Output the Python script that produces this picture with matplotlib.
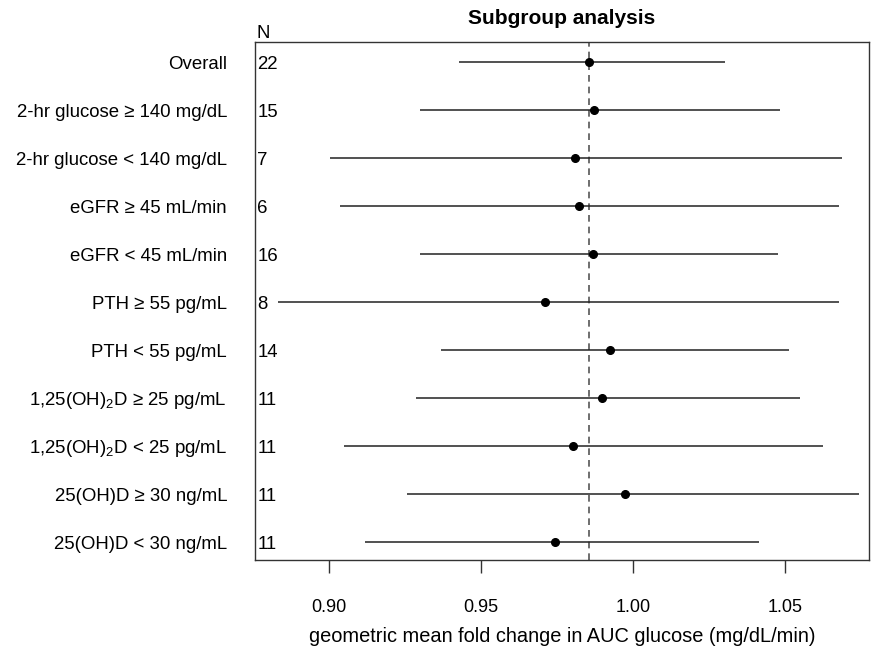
import matplotlib
matplotlib.use("Agg")
import matplotlib.pyplot as plt
import numpy as np

plt.rcParams['font.family'] = ['Liberation Sans', 'DejaVu Sans']
plt.rcParams['mathtext.fontset'] = 'custom'
plt.rcParams['mathtext.rm'] = 'Liberation Sans'
plt.rcParams['mathtext.default'] = 'regular'

labels = ["Overall",
          "2-hr glucose \u2265 140 mg/dL",
          "2-hr glucose < 140 mg/dL",
          "eGFR \u2265 45 mL/min",
          "eGFR < 45 mL/min",
          "PTH \u2265 55 pg/mL",
          "PTH < 55 pg/mL",
          "1,25(OH)$_2$D \u2265 25 pg/mL",
          "1,25(OH)$_2$D < 25 pg/mL",
          "25(OH)D \u2265 30 ng/mL",
          "25(OH)D < 30 ng/mL"]
n_values = [22, 15, 7, 6, 16, 8, 14, 11, 11, 11, 11]
estimate = [0.9855, 0.9872, 0.9807, 0.9821, 0.9867, 0.9709, 0.9923, 0.9896, 0.9803, 0.9973, 0.9744]
lower = [0.9428, 0.9297, 0.9003, 0.9034, 0.9297, 0.8833, 0.9367, 0.9287, 0.9049, 0.9255, 0.9118]
upper = [1.0301, 1.0483, 1.0685, 1.0677, 1.0475, 1.0676, 1.0513, 1.0548, 1.0623, 1.0743, 1.0413]
ref_line = 0.9855
xticks = [0.90, 0.95, 1.00, 1.05]

fig = plt.figure(figsize=(8.71, 6.56), dpi=100)
ax = fig.add_axes([255/871, 1-560/656, (869-255)/871, (560-42)/656])

n = len(labels)
ypos = np.arange(n, 0, -1)

ax.axvline(ref_line, color='#555555', linestyle=(0, (4, 3)), linewidth=1.2, zorder=1)
ax.hlines(ypos, lower, upper, color='#222222', linewidth=1.1, zorder=2)
ax.plot(estimate, ypos, 'o', color='black', markersize=5.5, zorder=3)

ax.set_xlim(0.8756, 1.0775)
ax.set_ylim(0.625, 11.41)
ax.set_xticks(xticks)
ax.set_xticklabels([f"{t:.2f}" for t in xticks], fontsize=13)
ax.tick_params(axis='x', length=9, width=1, pad=19, color='#333333')
ax.set_yticks([])
for s in ['left', 'right', 'top', 'bottom']:
    ax.spines[s].set_linewidth(1.0)
    ax.spines[s].set_color('#333333')

for y, lab, nv in zip(ypos, labels, n_values):
    ax.text(-0.0456, y - 0.05, lab, transform=ax.get_yaxis_transform(), ha='right', va='center', fontsize=13.4)
    ax.text(0.004, y - 0.05, str(nv), transform=ax.get_yaxis_transform(), ha='left', va='center', fontsize=13.4)

fig.text(256/871, 1-33/656, "N", ha='left', va='center', fontsize=13.4)
fig.text(562/871, 1-18/656, "Subgroup analysis", ha='center', va='center', fontsize=15, fontweight='bold')
fig.text(562/871, 1-637/656, "geometric mean fold change in AUC glucose (mg/dL/min)", ha='center', va='center', fontsize=14.4)

fig.savefig("out.png", dpi=100)
